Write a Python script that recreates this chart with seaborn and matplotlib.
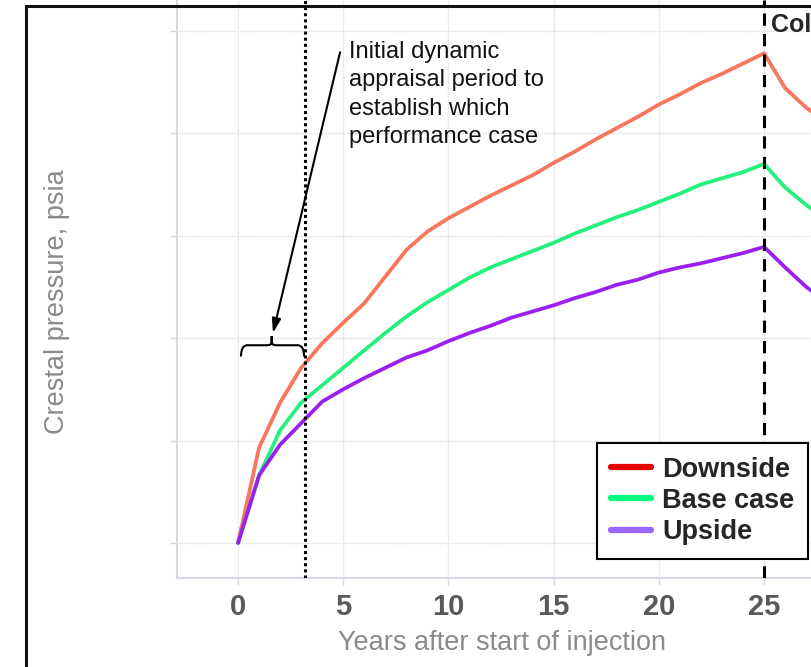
import numpy as np
import pandas as pd
import seaborn as sns
import matplotlib.pyplot as plt
from matplotlib.lines import Line2D
from matplotlib.patches import Rectangle, PathPatch
from matplotlib.path import Path

# data (arbitrary pressure units, grid step = 1)
years = list(range(0, 29))
downside = [0.00, 0.93, 1.37, 1.71, 1.95, 2.15, 2.34, 2.60, 2.86, 3.04, 3.17,
            3.28, 3.39, 3.49, 3.59, 3.71, 3.82, 3.94, 4.05, 4.16, 4.28,
            4.38, 4.49, 4.58, 4.68, 4.78, 4.44, 4.25, 4.10]
base_case = [0.00, 0.66, 1.10, 1.37, 1.54, 1.71, 1.88, 2.05, 2.21, 2.35, 2.47,
             2.59, 2.69, 2.77, 2.85, 2.93, 3.02, 3.10, 3.18, 3.25, 3.33,
             3.41, 3.50, 3.56, 3.62, 3.70, 3.47, 3.30, 3.15]
upside = [0.00, 0.66, 0.96, 1.17, 1.38, 1.50, 1.61, 1.71, 1.81, 1.88, 1.97,
          2.05, 2.12, 2.20, 2.26, 2.32, 2.39, 2.45, 2.52, 2.57, 2.64,
          2.69, 2.73, 2.78, 2.83, 2.89, 2.69, 2.50, 2.35]
cases = ["Downside", "Base case", "Upside"]
line_colors = ["#F8765C", "#24F07C", "#9B1FF0"]
legend_colors = ["#E80000", "#00FF80", "#9966FF"]
x_ticks = [0, 5, 10, 15, 20, 25]
appraisal_end = 3.2
closure_year = 25

df = pd.DataFrame({
    "year": years * 3,
    "pressure": downside + base_case + upside,
    "case": [c for c in cases for _ in years],
})

sns.set_theme(style="whitegrid")
plt.rcParams["font.family"] = ["Liberation Sans", "DejaVu Sans"]

fig = plt.figure(figsize=(8.12, 6.67), dpi=100)
ax = fig.add_axes([0.218, 0.1334, 0.8007, 0.8666])

sns.lineplot(data=df, x="year", y="pressure", hue="case", hue_order=cases,
             palette=line_colors, linewidth=2.7, legend=False, ax=ax)

ax.set_xlim(-2.9, 28)
ax.set_ylim(-0.342, 5.30)
ax.set_xticks(x_ticks)
ax.set_yticks(range(0, 6))
ax.set_yticklabels([])
ax.grid(True, color="#e2e2e2", linewidth=1.0, linestyle=(0, (1, 0.5)))
for s in ["top", "right"]:
    ax.spines[s].set_visible(False)
for s in ["left", "bottom"]:
    ax.spines[s].set_color("#d8d8e4")
    ax.spines[s].set_linewidth(1.5)
ax.tick_params(axis="both", length=5, width=1, color="#d8d8e4", left=True, bottom=True)
ax.tick_params(axis="x", labelsize=21, labelcolor="#595959", pad=6)
for lab in ax.get_xticklabels():
    lab.set_fontweight("bold")
ax.set_xlabel("Years after start of injection", fontsize=19.5, color="#8a8a8a", labelpad=6)
ax.set_ylabel("Crestal pressure, psia", fontsize=19.5, color="#8a8a8a")
ax.yaxis.set_label_coords(-0.165, 0.479)

# vertical markers
ax.axvline(appraisal_end, color="black", linewidth=2.2, linestyle=(0, (1, 1)), zorder=3)
ax.axvline(closure_year, color="black", linewidth=2.2, linestyle=(0, (4, 2.7)), zorder=3)
ax.text(closure_year + 0.35, 5.06, "Col", fontsize=18, fontweight="bold", va="center")

# annotation text + arrow
ax.text(5.27, 4.90, "Initial dynamic\nappraisal period to\nestablish which\nperformance case",
        fontsize=17, va="top", ha="left", linespacing=1.38, color="#111111")
ax.annotate("", xy=(1.66, 2.05), xytext=(4.85, 4.79),
            arrowprops=dict(arrowstyle="-|>,head_length=0.7,head_width=0.22",
                            color="black", lw=1.5, shrinkA=0, shrinkB=0))

# curly brace over the appraisal period
x0, x1, xm = 0.14, 3.14, 1.6
yb, yl, yt = 1.82, 1.93, 2.02
verts = [(x0, yb), (x0, yl), (x0 + 0.3, yl), (xm - 0.35, yl),
         (xm, yl), (xm, yl), (xm, yt),
         (xm, yl), (xm, yl), (xm + 0.35, yl),
         (x1 - 0.3, yl), (x1, yl), (x1, yb)]
codes = [Path.MOVETO, Path.CURVE3, Path.CURVE3, Path.LINETO,
         Path.CURVE4, Path.CURVE4, Path.CURVE4,
         Path.CURVE4, Path.CURVE4, Path.CURVE4,
         Path.LINETO, Path.CURVE3, Path.CURVE3]
ax.add_patch(PathPatch(Path(verts, codes), facecolor="none", edgecolor="black", lw=1.5))

handles = [Line2D([], [], color=c, lw=4.5) for c in legend_colors]
leg = ax.legend(handles, cases, loc="upper left",
                bbox_to_anchor=(597 / 812, 1 - 443 / 667), bbox_transform=fig.transFigure,
                prop={"weight": "bold", "size": 19.5}, frameon=True, fancybox=False,
                edgecolor="black", framealpha=1, handlelength=1.5, handletextpad=0.4,
                labelspacing=0.2, borderpad=0.5, borderaxespad=0)
leg.get_frame().set_linewidth(1.5)
leg.set_zorder(5)

# outer frame of the figure
fig.patches.append(Rectangle((26 / 812, -0.1), 1.2, 1.1 - 6 / 667, transform=fig.transFigure,
                             fill=False, edgecolor="#111111", linewidth=2.2))

fig.savefig("out.png", dpi=100)
